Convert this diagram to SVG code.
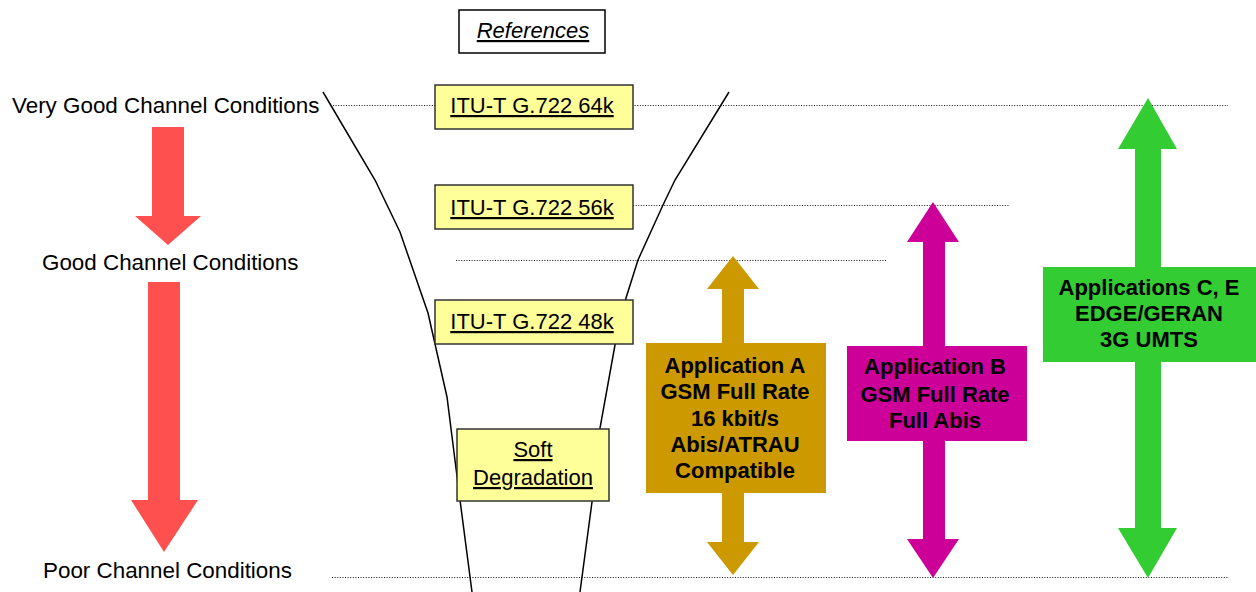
<svg xmlns="http://www.w3.org/2000/svg" width="1256" height="592" viewBox="0 0 1256 592">
<style>
.lbl{font-family:"Liberation Sans",Arial,sans-serif;font-size:22.4px;fill:#000}
.ref{font-family:"Liberation Sans",Arial,sans-serif;font-size:22px;fill:#000;text-decoration:underline;text-anchor:middle}
.app{font-family:"Liberation Sans",Arial,sans-serif;font-size:22px;font-weight:bold;fill:#000;text-anchor:middle}
.dot{stroke:#111;stroke-width:1;stroke-dasharray:1 1.6;fill:none}
.fun{stroke:#000;stroke-width:1.5;fill:none}
.ybox{fill:#FFFF99;stroke:#333;stroke-width:1.5}
</style>
<rect width="1256" height="592" fill="#fff"/>
<g id="connectors">
<line class="dot" x1="333" y1="105.5" x2="1228" y2="105.5"/>
<line class="dot" x1="633" y1="205.5" x2="1010" y2="205.5"/>
<line class="dot" x1="456" y1="260.5" x2="886" y2="260.5"/>
<line class="dot" x1="332" y1="577.5" x2="1228" y2="577.5"/>
<polyline class="fun" points="323,92 375,180 400,232 428,313 447,397 460,500 472,592"/>
<polyline class="fun" points="729,92 675,180 663,205 638,260 626,298 615,345 600,428 592,502 580,592"/>
</g>
<g id="labels">
<text class="lbl" x="12" y="113">Very Good Channel Conditions</text>
<text class="lbl" x="42" y="270">Good Channel Conditions</text>
<text class="lbl" x="43" y="578">Poor Channel Conditions</text>
</g>
<g id="red-arrow-1"><polygon fill="#FF5050" points="152,127 184,127 184,216 201,216 168,245 135,216 152,216"/></g>
<g id="red-arrow-2"><polygon fill="#FF5050" points="148,282 180,282 180,500 198,500 164,552 131,500 148,500"/></g>
<g id="references">
<rect x="459" y="10" width="146" height="43" fill="#fff" stroke="#000" stroke-width="1.5"/>
<text class="ref" x="533" y="38" font-style="italic">References</text>
</g>
<g id="g722-64k">
<rect class="ybox" x="435" y="85" width="198" height="44"/>
<text class="ref" x="532" y="113">ITU-T G.722 64k</text>
</g>
<g id="g722-56k">
<rect class="ybox" x="435" y="185" width="198" height="44"/>
<text class="ref" x="532" y="215">ITU-T G.722 56k</text>
</g>
<g id="g722-48k">
<rect class="ybox" x="435" y="300" width="198" height="44"/>
<text class="ref" x="532" y="329">ITU-T G.722 48k</text>
</g>
<g id="soft-degradation">
<rect class="ybox" x="457" y="429" width="152" height="72"/>
<text class="ref" x="533" y="457">Soft</text>
<text class="ref" x="533" y="485">Degradation</text>
</g>
<g id="app-a">
<polygon fill="#CC9900" points="733,256 759,289 744,289 744,542 759,542 733,575 707,542 722,542 722,289 707,289"/>
<rect x="646" y="343" width="180" height="150" fill="#CC9900"/>
<text class="app" x="735" y="373">Application A</text>
<text class="app" x="735" y="399">GSM Full Rate</text>
<text class="app" x="735" y="426">16 kbit/s</text>
<text class="app" x="735" y="452">Abis/ATRAU</text>
<text class="app" x="735" y="478">Compatible</text>
</g>
<g id="app-b">
<polygon fill="#CC0099" points="933,202 959,242 945,242 945,539 959,539 933,578 907,539 923,539 923,242 907,242"/>
<rect x="847" y="346" width="180" height="95" fill="#CC0099"/>
<text class="app" x="935" y="374">Application B</text>
<text class="app" x="935" y="402">GSM Full Rate</text>
<text class="app" x="935" y="428">Full Abis</text>
</g>
<g id="app-ce">
<polygon fill="#33CC33" points="1148,98 1177,149 1161,149 1161,528 1177,528 1148,578 1118,528 1135,528 1135,149 1118,149"/>
<rect x="1043" y="267" width="213" height="95" fill="#33CC33"/>
<text class="app" x="1149" y="295">Applications C, E</text>
<text class="app" x="1149" y="321">EDGE/GERAN</text>
<text class="app" x="1149" y="347">3G UMTS</text>
</g>
</svg>
